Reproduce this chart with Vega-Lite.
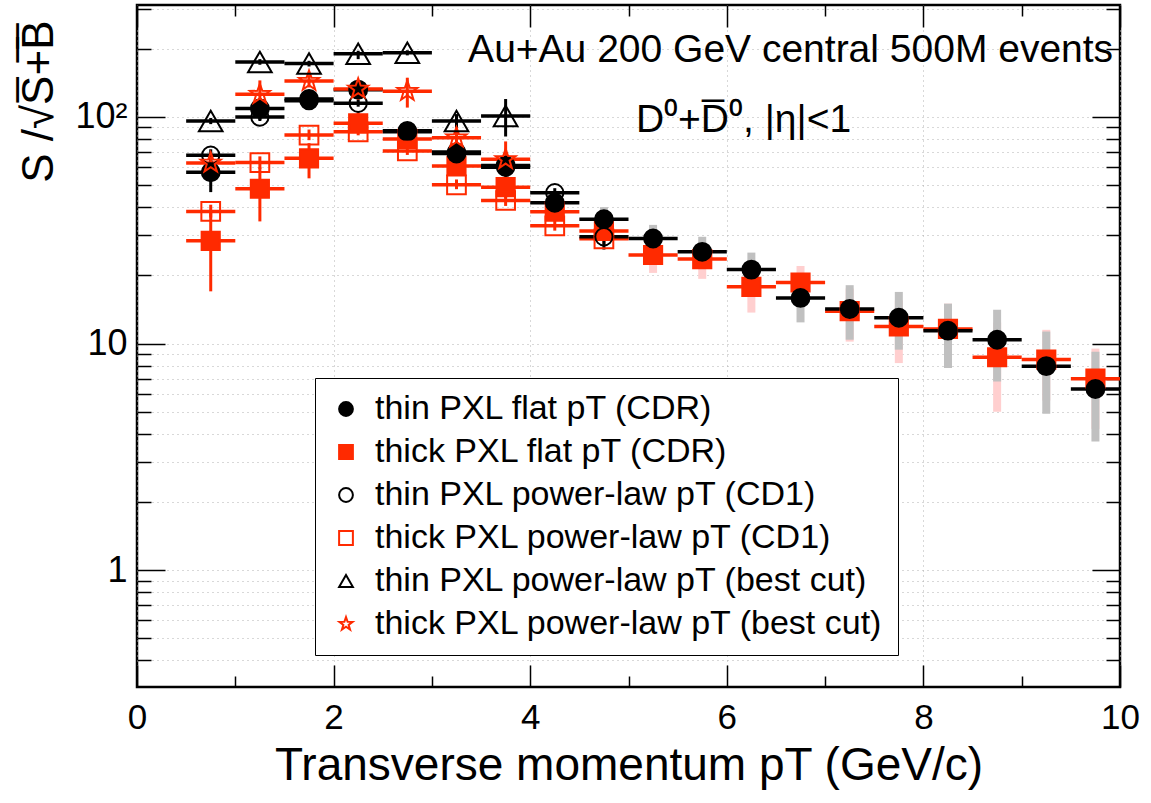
{
  "$schema": "https://vega.github.io/schema/vega-lite/v6.json",
  "width": 983,
  "height": 682,
  "autosize": {"type": "none"},
  "padding": {"left": 137, "top": 5, "right": 31, "bottom": 116},
  "background": "white",
  "config": {
    "view": {"stroke": "black", "strokeWidth": 2.5},
    "font": "Liberation Sans",
    "axis": {"labelFont": "Liberation Sans", "titleFont": "Liberation Sans", "titleFontWeight": "normal", "labelColor": "black", "titleColor": "black"}
  },
  "data": {"values": [
    {"s": "thick PXL flat pT (CDR)", "pt": 0.75, "pt_lo": 0.5, "pt_hi": 1.0, "v": 28.4, "lo": 17, "hi": 38},
    {"s": "thick PXL flat pT (CDR)", "pt": 1.25, "pt_lo": 1.0, "pt_hi": 1.5, "v": 48.2, "lo": 34.6, "hi": 60},
    {"s": "thick PXL flat pT (CDR)", "pt": 1.75, "pt_lo": 1.5, "pt_hi": 2.0, "v": 65.7, "lo": 53.6, "hi": 76.6},
    {"s": "thick PXL flat pT (CDR)", "pt": 2.25, "pt_lo": 2.0, "pt_hi": 2.5, "v": 93.7, "lo": 85, "hi": 105},
    {"s": "thick PXL flat pT (CDR)", "pt": 2.75, "pt_lo": 2.5, "pt_hi": 3.0, "v": 80, "lo": 75, "hi": 85},
    {"s": "thick PXL flat pT (CDR)", "pt": 3.25, "pt_lo": 3.0, "pt_hi": 3.5, "v": 60.8, "lo": 55, "hi": 67},
    {"s": "thick PXL flat pT (CDR)", "pt": 3.75, "pt_lo": 3.5, "pt_hi": 4.0, "v": 49, "lo": 44, "hi": 55},
    {"s": "thick PXL flat pT (CDR)", "pt": 4.25, "pt_lo": 4.0, "pt_hi": 4.5, "v": 38.2, "lo": 35, "hi": 41.5},
    {"s": "thick PXL flat pT (CDR)", "pt": 4.75, "pt_lo": 4.5, "pt_hi": 5.0, "v": 31.4, "lo": 28.5, "hi": 34.5},
    {"s": "thick PXL flat pT (CDR)", "pt": 5.25, "pt_lo": 5.0, "pt_hi": 5.5, "v": 24.6, "lo": 20.5, "hi": 28.5},
    {"s": "thick PXL flat pT (CDR)", "pt": 5.75, "pt_lo": 5.5, "pt_hi": 6.0, "v": 23.6, "lo": 19.3, "hi": 27.5},
    {"s": "thick PXL flat pT (CDR)", "pt": 6.25, "pt_lo": 6.0, "pt_hi": 6.5, "v": 17.8, "lo": 13.7, "hi": 21.5},
    {"s": "thick PXL flat pT (CDR)", "pt": 6.75, "pt_lo": 6.5, "pt_hi": 7.0, "v": 18.6, "lo": 15, "hi": 22},
    {"s": "thick PXL flat pT (CDR)", "pt": 7.25, "pt_lo": 7.0, "pt_hi": 7.5, "v": 13.9, "lo": 10.2, "hi": 17.5},
    {"s": "thick PXL flat pT (CDR)", "pt": 7.75, "pt_lo": 7.5, "pt_hi": 8.0, "v": 11.9, "lo": 8.2, "hi": 15.5},
    {"s": "thick PXL flat pT (CDR)", "pt": 8.25, "pt_lo": 8.0, "pt_hi": 8.5, "v": 11.6, "lo": 8, "hi": 15},
    {"s": "thick PXL flat pT (CDR)", "pt": 8.75, "pt_lo": 8.5, "pt_hi": 9.0, "v": 8.7, "lo": 5.0, "hi": 12.4},
    {"s": "thick PXL flat pT (CDR)", "pt": 9.25, "pt_lo": 9.0, "pt_hi": 9.5, "v": 8.5, "lo": 5.6, "hi": 11.5},
    {"s": "thick PXL flat pT (CDR)", "pt": 9.75, "pt_lo": 9.5, "pt_hi": 10.0, "v": 7.0, "lo": 4.2, "hi": 9.5},
    {"s": "thin PXL flat pT (CDR)", "pt": 0.75, "pt_lo": 0.5, "pt_hi": 1.0, "v": 57, "lo": 46.6, "hi": 69},
    {"s": "thin PXL flat pT (CDR)", "pt": 1.25, "pt_lo": 1.0, "pt_hi": 1.5, "v": 109, "lo": 97, "hi": 121},
    {"s": "thin PXL flat pT (CDR)", "pt": 1.75, "pt_lo": 1.5, "pt_hi": 2.0, "v": 120, "lo": 112, "hi": 128},
    {"s": "thin PXL flat pT (CDR)", "pt": 2.25, "pt_lo": 2.0, "pt_hi": 2.5, "v": 132, "lo": 123, "hi": 141},
    {"s": "thin PXL flat pT (CDR)", "pt": 2.75, "pt_lo": 2.5, "pt_hi": 3.0, "v": 86, "lo": 81, "hi": 91},
    {"s": "thin PXL flat pT (CDR)", "pt": 3.25, "pt_lo": 3.0, "pt_hi": 3.5, "v": 69, "lo": 64, "hi": 75},
    {"s": "thin PXL flat pT (CDR)", "pt": 3.75, "pt_lo": 3.5, "pt_hi": 4.0, "v": 61, "lo": 56, "hi": 66},
    {"s": "thin PXL flat pT (CDR)", "pt": 4.25, "pt_lo": 4.0, "pt_hi": 4.5, "v": 41.8, "lo": 39, "hi": 44.5},
    {"s": "thin PXL flat pT (CDR)", "pt": 4.75, "pt_lo": 4.5, "pt_hi": 5.0, "v": 35.4, "lo": 31, "hi": 40},
    {"s": "thin PXL flat pT (CDR)", "pt": 5.25, "pt_lo": 5.0, "pt_hi": 5.5, "v": 29.1, "lo": 25.5, "hi": 33.4},
    {"s": "thin PXL flat pT (CDR)", "pt": 5.75, "pt_lo": 5.5, "pt_hi": 6.0, "v": 25.4, "lo": 21.5, "hi": 29.6},
    {"s": "thin PXL flat pT (CDR)", "pt": 6.25, "pt_lo": 6.0, "pt_hi": 6.5, "v": 21.2, "lo": 17.5, "hi": 25.2},
    {"s": "thin PXL flat pT (CDR)", "pt": 6.75, "pt_lo": 6.5, "pt_hi": 7.0, "v": 15.9, "lo": 12.4, "hi": 19.5},
    {"s": "thin PXL flat pT (CDR)", "pt": 7.25, "pt_lo": 7.0, "pt_hi": 7.5, "v": 14.2, "lo": 10.4, "hi": 18.1},
    {"s": "thin PXL flat pT (CDR)", "pt": 7.75, "pt_lo": 7.5, "pt_hi": 8.0, "v": 13.0, "lo": 9.4, "hi": 16.9},
    {"s": "thin PXL flat pT (CDR)", "pt": 8.25, "pt_lo": 8.0, "pt_hi": 8.5, "v": 11.4, "lo": 7.8, "hi": 15.0},
    {"s": "thin PXL flat pT (CDR)", "pt": 8.75, "pt_lo": 8.5, "pt_hi": 9.0, "v": 10.4, "lo": 6.8, "hi": 14.1},
    {"s": "thin PXL flat pT (CDR)", "pt": 9.25, "pt_lo": 9.0, "pt_hi": 9.5, "v": 7.95, "lo": 4.9, "hi": 11.3},
    {"s": "thin PXL flat pT (CDR)", "pt": 9.75, "pt_lo": 9.5, "pt_hi": 10.0, "v": 6.3, "lo": 3.7, "hi": 9.2},
    {"s": "thick PXL power-law pT (CD1)", "pt": 0.75, "pt_lo": 0.5, "pt_hi": 1.0, "v": 38.3, "lo": 36, "hi": 41},
    {"s": "thick PXL power-law pT (CD1)", "pt": 1.25, "pt_lo": 1.0, "pt_hi": 1.5, "v": 62.9, "lo": 59, "hi": 67},
    {"s": "thick PXL power-law pT (CD1)", "pt": 1.75, "pt_lo": 1.5, "pt_hi": 2.0, "v": 83.2, "lo": 79, "hi": 88},
    {"s": "thick PXL power-law pT (CD1)", "pt": 2.25, "pt_lo": 2.0, "pt_hi": 2.5, "v": 86, "lo": 83, "hi": 89},
    {"s": "thick PXL power-law pT (CD1)", "pt": 2.75, "pt_lo": 2.5, "pt_hi": 3.0, "v": 70.8, "lo": 68, "hi": 74},
    {"s": "thick PXL power-law pT (CD1)", "pt": 3.25, "pt_lo": 3.0, "pt_hi": 3.5, "v": 50.2, "lo": 48, "hi": 53},
    {"s": "thick PXL power-law pT (CD1)", "pt": 3.75, "pt_lo": 3.5, "pt_hi": 4.0, "v": 42.8, "lo": 40.5, "hi": 45},
    {"s": "thick PXL power-law pT (CD1)", "pt": 4.25, "pt_lo": 4.0, "pt_hi": 4.5, "v": 33.1, "lo": 31.5, "hi": 35},
    {"s": "thick PXL power-law pT (CD1)", "pt": 4.75, "pt_lo": 4.5, "pt_hi": 5.0, "v": 29, "lo": 27.5, "hi": 30.5},
    {"s": "thin PXL power-law pT (CD1)", "pt": 0.75, "pt_lo": 0.5, "pt_hi": 1.0, "v": 67.8, "lo": 62, "hi": 72},
    {"s": "thin PXL power-law pT (CD1)", "pt": 1.25, "pt_lo": 1.0, "pt_hi": 1.5, "v": 100, "lo": 96, "hi": 104},
    {"s": "thin PXL power-law pT (CD1)", "pt": 1.75, "pt_lo": 1.5, "pt_hi": 2.0, "v": 118, "lo": 114, "hi": 122},
    {"s": "thin PXL power-law pT (CD1)", "pt": 2.25, "pt_lo": 2.0, "pt_hi": 2.5, "v": 115, "lo": 111, "hi": 119},
    {"s": "thin PXL power-law pT (CD1)", "pt": 2.75, "pt_lo": 2.5, "pt_hi": 3.0, "v": 87, "lo": 84, "hi": 90},
    {"s": "thin PXL power-law pT (CD1)", "pt": 3.25, "pt_lo": 3.0, "pt_hi": 3.5, "v": 70, "lo": 67, "hi": 73},
    {"s": "thin PXL power-law pT (CD1)", "pt": 3.75, "pt_lo": 3.5, "pt_hi": 4.0, "v": 60, "lo": 57, "hi": 63},
    {"s": "thin PXL power-law pT (CD1)", "pt": 4.25, "pt_lo": 4.0, "pt_hi": 4.5, "v": 46.3, "lo": 44, "hi": 48.5},
    {"s": "thin PXL power-law pT (CD1)", "pt": 4.75, "pt_lo": 4.5, "pt_hi": 5.0, "v": 29.6, "lo": 26, "hi": 33},
    {"s": "thick PXL power-law pT (best cut)", "pt": 0.75, "pt_lo": 0.5, "pt_hi": 1.0, "v": 62.7, "lo": 58, "hi": 67},
    {"s": "thick PXL power-law pT (best cut)", "pt": 1.25, "pt_lo": 1.0, "pt_hi": 1.5, "v": 126, "lo": 114, "hi": 145},
    {"s": "thick PXL power-law pT (best cut)", "pt": 1.75, "pt_lo": 1.5, "pt_hi": 2.0, "v": 144, "lo": 135, "hi": 153},
    {"s": "thick PXL power-law pT (best cut)", "pt": 2.25, "pt_lo": 2.0, "pt_hi": 2.5, "v": 133, "lo": 119, "hi": 145},
    {"s": "thick PXL power-law pT (best cut)", "pt": 2.75, "pt_lo": 2.5, "pt_hi": 3.0, "v": 130, "lo": 110, "hi": 149},
    {"s": "thick PXL power-law pT (best cut)", "pt": 3.25, "pt_lo": 3.0, "pt_hi": 3.5, "v": 81, "lo": 71, "hi": 95},
    {"s": "thick PXL power-law pT (best cut)", "pt": 3.75, "pt_lo": 3.5, "pt_hi": 4.0, "v": 65, "lo": 60, "hi": 78},
    {"s": "thin PXL power-law pT (best cut)", "pt": 0.75, "pt_lo": 0.5, "pt_hi": 1.0, "v": 96, "lo": 93, "hi": 99},
    {"s": "thin PXL power-law pT (best cut)", "pt": 1.25, "pt_lo": 1.0, "pt_hi": 1.5, "v": 175, "lo": 170, "hi": 180},
    {"s": "thin PXL power-law pT (best cut)", "pt": 1.75, "pt_lo": 1.5, "pt_hi": 2.0, "v": 172, "lo": 167, "hi": 177},
    {"s": "thin PXL power-law pT (best cut)", "pt": 2.25, "pt_lo": 2.0, "pt_hi": 2.5, "v": 190, "lo": 180, "hi": 196},
    {"s": "thin PXL power-law pT (best cut)", "pt": 2.75, "pt_lo": 2.5, "pt_hi": 3.0, "v": 192, "lo": 187, "hi": 197},
    {"s": "thin PXL power-law pT (best cut)", "pt": 3.25, "pt_lo": 3.0, "pt_hi": 3.5, "v": 96, "lo": 90, "hi": 103},
    {"s": "thin PXL power-law pT (best cut)", "pt": 3.75, "pt_lo": 3.5, "pt_hi": 4.0, "v": 101, "lo": 82, "hi": 120}
  ]},
  "resolve": {"axis": {"x": "independent", "y": "independent"}},
  "layer": [
    {
      "transform": [{"filter": "datum.pt > 4 && indexof(datum.s, 'flat') >= 0"}],
      "mark": {"type": "rule", "strokeWidth": 8},
      "encoding": {
        "x": {"field": "pt", "type": "quantitative",
          "scale": {"domain": [0, 10], "nice": false, "zero": false},
          "axis": {"orient": "bottom", "values": [0,1,2,3,4,5,6,7,8,9,10],
            "labelExpr": "datum.value % 2 == 0 ? datum.label : ''",
            "tickSize": {"condition": {"test": "datum.value % 2 == 0", "value": -22}, "value": -11},
            "tickColor": "black", "tickWidth": 1.5, "domain": false,
            "grid": true, "gridDash": [1, 4], "gridColor": "#b0b0b0", "gridWidth": 1,
            "gridOpacity": {"condition": {"test": "datum.value % 2 == 1", "value": 0}, "value": 1},
            "labelFontSize": 35, "labelPadding": 35, "labelFlush": false,
            "title": "Transverse momentum pT (GeV/c)", "titleFontSize": 46, "titlePadding": 8}},
        "y": {"field": "lo", "type": "quantitative",
          "scale": {"type": "log", "domain": [0.305, 312], "nice": false},
          "axis": {"orient": "left", "values": [0.4,0.5,0.6,0.7,0.8,0.9,1,2,3,4,5,6,7,8,9,10,20,30,40,50,60,70,80,90,100,200,300],
            "labelExpr": "datum.value == 100 ? '10²' : datum.value == 10 ? '10' : datum.value == 1 ? '1' : ''",
            "tickSize": {"condition": {"test": "datum.value == 1 || datum.value == 10 || datum.value == 100", "value": -28}, "value": -14},
            "tickColor": "black", "tickWidth": 1.5, "domain": false,
            "grid": true, "gridDash": [1, 4], "gridColor": "#b0b0b0", "gridWidth": 1,
            "labelFontSize": 36, "labelPadding": 38, "labelFlush": false,
            "title": "S /√S̅+̅B̅", "titleFontSize": 44, "titleAngle": -90, "titleAlign": "right",
            "titleBaseline": "alphabetic", "titleX": -85, "titleY": 15}},
        "y2": {"field": "hi"},
        "stroke": {"condition": {"test": "indexof(datum.s, 'thick') == 0", "value": "#ffcfcf"}, "value": "#c0c0c0"}
      }
    },
    {
      "mark": {"type": "rule", "strokeWidth": 3.5},
      "encoding": {
        "x": {"field": "pt_lo", "type": "quantitative",
          "axis": {"orient": "top", "values": [0,1,2,3,4,5,6,7,8,9,10], "labels": false, "title": null,
            "tickSize": {"condition": {"test": "datum.value % 2 == 0", "value": -22}, "value": -11},
            "tickColor": "black", "tickWidth": 1.5, "domain": false, "grid": false}},
        "x2": {"field": "pt_hi"},
        "y": {"field": "v", "type": "quantitative",
          "axis": {"orient": "right", "values": [0.4,0.5,0.6,0.7,0.8,0.9,1,2,3,4,5,6,7,8,9,10,20,30,40,50,60,70,80,90,100,200,300],
            "labels": false, "title": null,
            "tickSize": {"condition": {"test": "datum.value == 1 || datum.value == 10 || datum.value == 100", "value": -28}, "value": -14},
            "tickColor": "black", "tickWidth": 1.5, "domain": false, "grid": false}},
        "stroke": {"condition": {"test": "indexof(datum.s, 'thick') == 0", "value": "#ff2a00"}, "value": "black"}
      }
    },
    {
      "transform": [{"filter": "!(datum.pt > 4 && indexof(datum.s, 'flat') >= 0)"}],
      "mark": {"type": "rule", "strokeWidth": 3},
      "encoding": {
        "x": {"field": "pt", "type": "quantitative", "axis": null},
        "y": {"field": "lo", "type": "quantitative", "axis": null},
        "y2": {"field": "hi"},
        "stroke": {"condition": {"test": "indexof(datum.s, 'thick') == 0", "value": "#ff2a00"}, "value": "black"}
      }
    },
    {
      "mark": {"type": "point", "opacity": 1, "strokeWidth": 2},
      "encoding": {
        "x": {"field": "pt", "type": "quantitative", "axis": null},
        "y": {"field": "v", "type": "quantitative", "axis": null},
        "shape": {"field": "s", "type": "nominal",
          "scale": {"domain": ["thin PXL flat pT (CDR)", "thick PXL flat pT (CDR)", "thin PXL power-law pT (CD1)", "thick PXL power-law pT (CD1)", "thin PXL power-law pT (best cut)", "thick PXL power-law pT (best cut)"],
            "range": ["circle", "square", "circle", "square", "triangle-up", "M0,-1L0.235,-0.324L0.951,-0.309L0.38,0.124L0.588,0.809L0,0.4L-0.588,0.809L-0.38,0.124L-0.951,-0.309L-0.235,-0.324Z"]},
          "legend": {"orient": "none", "legendX": 178, "legendY": 373, "title": null,
            "strokeColor": "black", "fillColor": "white", "padding": 14,
            "labelFontSize": 34, "labelFont": "Liberation Sans", "labelColor": "black", "labelLimit": 0,
            "symbolSize": 190, "symbolStrokeWidth": 2, "rowPadding": 9, "labelOffset": 12, "cornerRadius": 0}},
        "fill": {"field": "s", "type": "nominal",
          "scale": {"domain": ["thin PXL flat pT (CDR)", "thick PXL flat pT (CDR)", "thin PXL power-law pT (CD1)", "thick PXL power-law pT (CD1)", "thin PXL power-law pT (best cut)", "thick PXL power-law pT (best cut)"],
            "range": ["black", "#ff2a00", "transparent", "transparent", "transparent", "transparent"]},
          "legend": {"orient": "none", "legendX": 178, "legendY": 373, "title": null}},
        "stroke": {"field": "s", "type": "nominal",
          "scale": {"domain": ["thin PXL flat pT (CDR)", "thick PXL flat pT (CDR)", "thin PXL power-law pT (CD1)", "thick PXL power-law pT (CD1)", "thin PXL power-law pT (best cut)", "thick PXL power-law pT (best cut)"],
            "range": ["black", "#ff2a00", "black", "#ff2a00", "black", "#ff2a00"]},
          "legend": {"orient": "none", "legendX": 178, "legendY": 373, "title": null}},
        "size": {"condition": [
          {"test": "datum.s == 'thin PXL flat pT (CDR)'", "value": 320},
          {"test": "datum.s == 'thick PXL flat pT (CDR)'", "value": 330},
          {"test": "datum.s == 'thin PXL power-law pT (CD1)'", "value": 300},
          {"test": "datum.s == 'thick PXL power-law pT (CD1)'", "value": 350},
          {"test": "datum.s == 'thin PXL power-law pT (best cut)'", "value": 560}
        ], "value": 440}
      }
    },
    {
      "data": {"values": [{}]},
      "mark": {"type": "text", "align": "right", "baseline": "alphabetic", "fontSize": 39, "font": "Liberation Sans", "color": "black"},
      "encoding": {
        "x": {"datum": 9.93, "type": "quantitative", "axis": null},
        "y": {"datum": 175, "type": "quantitative", "axis": null},
        "text": {"value": "Au+Au 200 GeV central 500M events"}
      }
    },
    {
      "data": {"values": [{}]},
      "mark": {"type": "text", "align": "center", "baseline": "alphabetic", "fontSize": 39, "font": "Liberation Sans", "color": "black"},
      "encoding": {
        "x": {"datum": 6.17, "type": "quantitative", "axis": null},
        "y": {"datum": 86, "type": "quantitative", "axis": null},
        "text": {"value": "D⁰+D̅⁰, |η|<1"}
      }
    }
  ]
}
